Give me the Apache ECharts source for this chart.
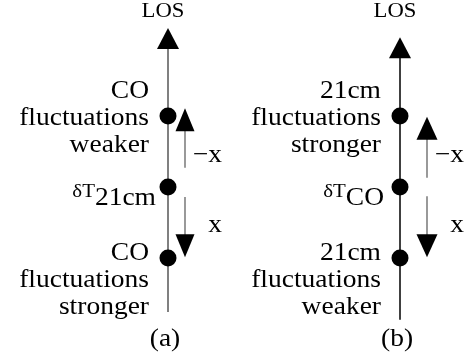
<!DOCTYPE html>
<html>
<head>
<meta charset="utf-8">
<script src="https://cdn.jsdelivr.net/npm/echarts@6/dist/echarts.min.js"></script>
<style>
html, body { margin: 0; padding: 0; background: #fff; }
#chart { width: 469px; height: 360px; }
</style>
</head>
<body>
<div id="chart"></div>
<script>
// Two line-of-sight sketches. Positions along the LOS are in units of the
// tracer offset x: the mapped δT sits at 0, the other tracer at +1 / -1.
const panels = ['(a)', '(b)'];
const tracerPos = [1, 0, -1];                     // upper tracer, δT map, lower tracer
const mappedLine = ['21cm', 'CO'];                // field whose δT is mapped
const upperText = ['CO\nfluctuations\nweaker', '21cm\nfluctuations\nstronger'];
const lowerText = ['CO\nfluctuations\nstronger', '21cm\nfluctuations\nweaker'];
const losRange = [[-1.76, 2.24], [-1.87, 2.11]];  // LOS line: far end, arrow tip
const shiftFrom = [[0.27, -0.14], [0.13, -0.13]]; // shift arrows start (up, down)
const shiftTo = [[1.11, -0.99], [0.99, -0.99]];   // shift arrows tip (up, down)
const shiftText = ['\u2212x', 'x'];
const shiftTextPos = [0.45, -0.54];

const FAMILY = 'Liberation Serif';
const GRAY = '#808080';
const losColor = [GRAY, '#000'];
const arrowOffset = [17, 27];   // px to the right of each LOS line
const arrowHeadW = [19, 21];
const mapLabelGap = [12, 16];

function arrow(p0, p1, headLen, headW, shaftColor, shaftW) {
  const dx = p1[0] - p0[0], dy = p1[1] - p0[1];
  const L = Math.hypot(dx, dy);
  const ux = dx / L, uy = dy / L;
  const bx = p1[0] - ux * headLen, by = p1[1] - uy * headLen;
  const nx = -uy * headW / 2, ny = ux * headW / 2;
  return [
    { type: 'line', shape: { x1: p0[0], y1: p0[1], x2: bx + ux, y2: by + uy },
      style: { stroke: shaftColor, lineWidth: shaftW } },
    { type: 'polygon', shape: { points: [[p1[0], p1[1]], [bx + nx, by + ny], [bx - nx, by - ny]] },
      style: { fill: '#000' } }
  ];
}

function txt(x, y, text, opts) {
  return {
    type: 'text', x: x, y: y, scaleX: opts.scaleX || 1.1,
    style: Object.assign({
      text: text, x: 0, y: 0, fill: '#000',
      fontFamily: FAMILY, fontSize: opts.size || 25,
      align: opts.align || 'right', verticalAlign: opts.valign || 'middle',
      lineHeight: opts.lineHeight || 27
    }, opts.extra || {})
  };
}

// LOS lines with arrow heads
const losData = panels.map((p, i) => [i, losRange[i][0], losRange[i][1]]);
// shift arrows
const shiftData = [];
panels.forEach((p, i) => {
  for (let k = 0; k < 2; k++) shiftData.push([i, shiftFrom[i][k], shiftTo[i][k]]);
});
// tracer dots
const dotData = [];
panels.forEach((p, i) => tracerPos.forEach(s => dotData.push([i, s])));

const option = {
  animation: false,
  grid: { left: 168, right: 69, top: 116, bottom: 102 },
  xAxis: { type: 'value', min: 0, max: 1, show: false },
  yAxis: { type: 'value', min: -1, max: 1, show: false },
  series: [
    {
      type: 'custom', coordinateSystem: 'cartesian2d', data: losData,
      renderItem: (params, api) => {
        const i = api.value(0);
        const p0 = api.coord([i, api.value(1)]);
        const p1 = api.coord([i, api.value(2)]);
        return { type: 'group', children: arrow(p0, p1, 21, 22, losColor[i], i === 0 ? 2 : 1.5) };
      }
    },
    {
      type: 'custom', coordinateSystem: 'cartesian2d', data: shiftData,
      renderItem: (params, api) => {
        const i = api.value(0);
        const p0 = api.coord([i, api.value(1)]);
        const p1 = api.coord([i, api.value(2)]);
        p0[0] += arrowOffset[i]; p1[0] += arrowOffset[i];
        return { type: 'group', children: arrow(p0, p1, 23, arrowHeadW[i], GRAY, 1.6) };
      }
    },
    {
      type: 'scatter', data: dotData, symbol: 'circle', symbolSize: 17,
      itemStyle: { color: '#000', opacity: 1 }, z: 5
    },
    {
      // text annotations anchored on the LOS positions
      type: 'custom', coordinateSystem: 'cartesian2d', data: panels.map((p, i) => [i]),
      renderItem: (params, api) => {
        const i = api.value(0);
        const up = api.coord([i, tracerPos[0]]);
        const mid = api.coord([i, tracerPos[1]]);
        const low = api.coord([i, tracerPos[2]]);
        const x = up[0];
        const ax = x + arrowOffset[i] + 37;
        const yMinus = api.coord([i, shiftTextPos[0]])[1];
        const yPlus = api.coord([i, shiftTextPos[1]])[1];
        return {
          type: 'group',
          children: [
            txt(x - 5, 11, 'LOS', { size: 21, align: 'center', scaleX: 1.08 }),
            txt(x - 19, up[1] + 2, upperText[i], {}),
            txt(x - 19, low[1] + 22, lowerText[i], {}),
            txt(x - mapLabelGap[i], mid[1] + 11, '{d|\u03b4T}{s|' + mappedLine[i] + '}', {
              extra: {
                rich: {
                  d: { fontFamily: FAMILY, fontSize: 19, lineHeight: 21, verticalAlign: 'top' },
                  s: { fontFamily: FAMILY, fontSize: 25, lineHeight: 31 }
                }
              }
            }),
            txt(ax, yMinus, shiftText[0], {}),
            txt(ax, yPlus, shiftText[1], {}),
            txt(x - 3, 339, panels[i], { align: 'center' })
          ]
        };
      }
    }
  ]
};

const chart = echarts.init(document.getElementById('chart'), null, { renderer: 'canvas' });
chart.setOption(option);
</script>
</body>
</html>
